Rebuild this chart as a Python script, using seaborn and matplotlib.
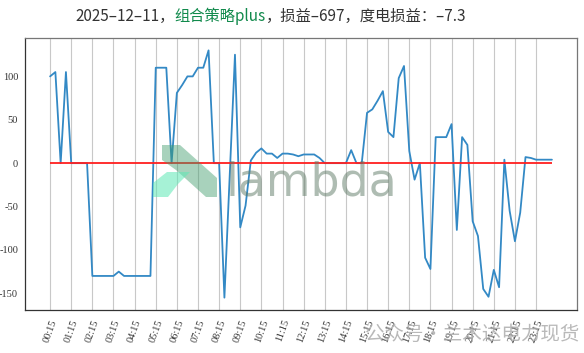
import numpy as np
import pandas as pd
import matplotlib.pyplot as plt
from matplotlib.patches import Polygon
import seaborn as sns

# 15-min slots 00:15 .. 24:00
times = [f"{(15 * k) // 60:02d}:{(15 * k) % 60:02d}" for k in range(1, 97)]
tick_labels = [f"{h:02d}:15" for h in range(24)]

pnl = [100, 105, 0, 105, 0, 0, 0, 0, -130, -130, -130, -130, -130, -125, -130, -130,
       -130, -130, -130, -130, 110, 110, 110, 0, 81, 90, 100, 100, 110, 110, 130, 0,
       0, -155, -15, 125, -74, -49, 3, 12, 17, 11, 11, 6, 11, 11, 10, 8,
       10, 10, 10, 6, 0, 0, 0, 0, 0, 15, 0, 0, 58, 62, 72, 83,
       36, 30, 98, 112, 14, -19, 0, -109, -122, 30, 30, 30, 45, -77, 30, 21,
       -67, -84, -145, -154, -123, -143, 4, -55, -90, -57, 7, 6, 4, 4, 4, 4]

title_date = "2025–12–11，"
title_strategy = "组合策略plus"
title_rest = "，损益–697，度电损益：–7.3"

df = pd.DataFrame({"slot": np.arange(len(pnl)), "time": times, "pnl": pnl})

sns.set_style("white")
plt.rcParams['font.family'] = ['Noto Sans CJK SC', 'DejaVu Sans']
plt.rcParams['axes.unicode_minus'] = False

fig = plt.figure(figsize=(5.84, 3.53), dpi=100)
ax = fig.add_axes([25 / 584, 1 - 310 / 353, 552 / 584, 272 / 353])

sns.lineplot(data=df, x="slot", y="pnl", ax=ax, color="#3389c5", linewidth=1.3)
ax.hlines(0, df["slot"].min(), df["slot"].max(), color="#ff1f1f", linewidth=1.3, zorder=3)

ax.set_xticks(df["slot"][::4])
ax.set_xticklabels(tick_labels, rotation=70, ha="right", rotation_mode="anchor",
                   family="Liberation Serif", fontsize=7.5, color="#333333")
ax.set_yticks([-150, -100, -50, 0, 50, 100])
for lab in ax.get_yticklabels():
    lab.set_family("Liberation Serif")
    lab.set_fontsize(7.5)
    lab.set_color("#333333")
ax.tick_params(axis="both", length=3, width=0.8, color="#333333", pad=2, direction="out")
ax.tick_params(axis="x", pad=3)
ax.xaxis.grid(True, color="#c8c8c8", linewidth=0.8)
ax.yaxis.grid(False)
ax.set_xlabel("")
ax.set_ylabel("")
for side, sp in ax.spines.items():
    sp.set_visible(True)
    sp.set_linewidth(0.9)
    sp.set_color("#333333" if side in ("left", "bottom") else "#777777")

# title with coloured strategy name
t1 = fig.text(75 / 584, 1 - 21 / 353, title_date, fontsize=11, color="#333333")
t2 = ax.annotate(title_strategy, xy=(1, 0), xycoords=t1, fontsize=11, color="#118a4c",
                 va="bottom", annotation_clip=False)
ax.annotate(title_rest, xy=(1, 0), xycoords=t2, fontsize=11, color="#333333",
            va="bottom", annotation_clip=False)

# watermark
def px(pts):
    return [(x / 584, 1 - y / 353) for x, y in pts]

fig.patches.append(Polygon(px([(162, 145), (180, 145), (217, 178), (217, 197), (206, 197),
                                (176, 170), (162, 160)]), closed=True,
                           transform=fig.transFigure, facecolor="#3f9d6c", alpha=0.45,
                           edgecolor="none", zorder=5))
fig.patches.append(Polygon(px([(153, 183), (167, 172), (190, 172), (178, 184), (168, 197),
                                (153, 197)]), closed=True,
                           transform=fig.transFigure, facecolor="#5ee8b5", alpha=0.55,
                           edgecolor="none", zorder=5))
fig.text(226 / 584, 1 - 195 / 353, "lambda", fontsize=33, color="#5f7a66", alpha=0.5,
         family="DejaVu Sans", zorder=5)
fig.text(365 / 584, 1 - 340 / 353, "公众号·兰木达电力现货", fontsize=14, color="#a8a8a8",
         alpha=0.8, zorder=5)

fig.savefig("out.png", dpi=100)
